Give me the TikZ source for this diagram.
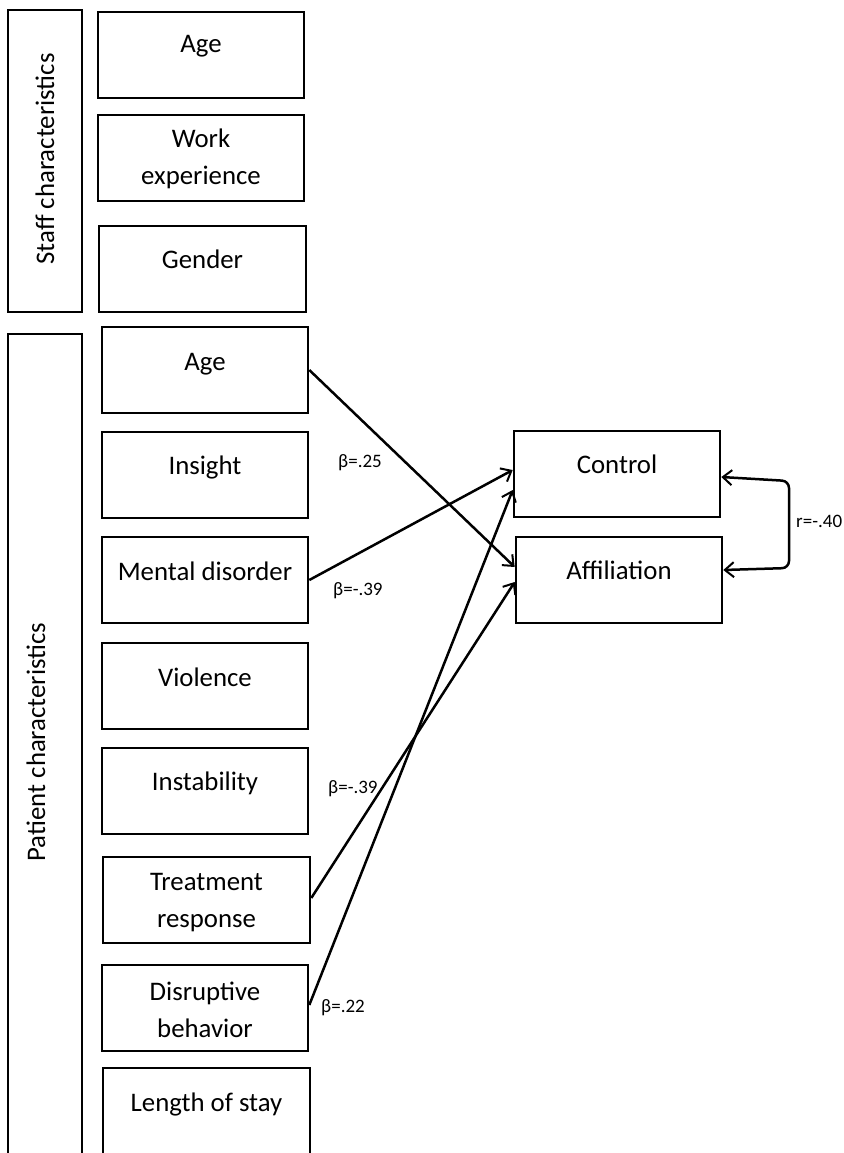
\documentclass[tikz,border=0pt]{standalone}
\usepackage{fontspec}
\setmainfont{Carlito}
\usetikzlibrary{arrows.meta,calc}
\begin{document}
\begin{tikzpicture}[x=1pt,y=-1pt,
  box/.style={draw, line width=2.6pt, minimum width=206pt, minimum height=86pt, inner sep=0pt},
  grp/.style={draw, line width=2.6pt, minimum width=74pt, inner sep=0pt},
  txt/.style={font=\fontsize{26.8}{37}\selectfont, align=center, inner sep=0pt},
  coef/.style={font=\fontsize{19}{21}\selectfont, inner sep=0pt, anchor=base west},
  arr/.style={line width=2.5pt, -{Straight Barb[length=9pt,width=15pt,line width=2pt]}},
  darr/.style={line width=2.5pt, {Straight Barb[length=9pt,width=15pt,line width=2pt]}-{Straight Barb[length=9pt,width=15pt,line width=2pt]}, rounded corners=7pt}
]
\useasboundingbox (0,0) rectangle (843,1153);
\clip (0,0) rectangle (843,1153);
\fill[white] (0,0) rectangle (843,1153);

% group boxes
\node[grp, minimum height=302pt] (staff) at (45,161) {};
\node[grp, minimum height=840pt] (patient) at (45,754) {};
\node[txt, rotate=90] at (45,159) {Staff characteristics};
\node[txt, rotate=90] at (36,742) {Patient characteristics};

% staff boxes
\node[box] (sage) at (201,55) {};
\node[box] (swork) at (201,158) {};
\node[box, minimum width=207pt] (sgender) at (202.5,269) {};
\node[txt, anchor=base] at (201,53) {Age};
\node[txt] at (201,159) {Work\\experience};
\node[txt, anchor=base] at (202.5,268) {Gender};

% patient boxes
\node[box] (page) at (205,370) {};
\node[box] (pinsight) at (205,475) {};
\node[box] (pmental) at (205,580) {};
\node[box] (pviol) at (205,686) {};
\node[box] (pinstab) at (205,791) {};
\node[box, minimum width=207pt] (ptreat) at (206.5,900) {};
\node[box] (pdisrupt) at (205,1008) {};
\node[box, minimum width=207pt] (plos) at (206.5,1111) {};
\node[txt, anchor=base] at (205,370) {Age};
\node[txt, anchor=base] at (205,474) {Insight};
\node[txt, anchor=base] at (205,580) {Mental disorder};
\node[txt, anchor=base] at (205,686) {Violence};
\node[txt, anchor=base] at (205,790) {Instability};
\node[txt] at (206.5,903) {Treatment\\response};
\node[txt] at (205,1010) {Disruptive\\behavior};
\node[txt, anchor=base] at (206.5,1111) {Length of stay};

% outcome boxes
\node[box] (ctrl) at (617,474) {};
\node[box] (aff) at (619,580) {};
\node[txt, anchor=base] at (617,473) {Control};
\node[txt, anchor=base] at (619,579) {Affiliation};

% paths
\draw[arr] (page.east) -- ([yshift=13pt]aff.west);
\draw[arr] (pmental.east) -- ([yshift=4pt]ctrl.west);
\draw[arr] ([yshift=2pt]ptreat.east) -- ([yshift=-2pt]aff.west);
\draw[arr] ([yshift=3pt]pdisrupt.east) -- ([yshift=-16pt]ctrl.west);

\coordinate (rc1) at (789,481);
\coordinate (rc2) at (789,568);
\draw[darr] ([yshift=-3pt]ctrl.east) -- (rc1) -- (rc2) -- ([yshift=10pt]aff.east);

% coefficients
\node[coef] at (338,467) {β=.25};
\node[coef] at (333,595) {β=-.39};
\node[coef] at (328,793) {β=-.39};
\node[coef] at (321,1012) {β=.22};
\node[coef] at (796,527) {r=-.40};
\end{tikzpicture}
\end{document}
